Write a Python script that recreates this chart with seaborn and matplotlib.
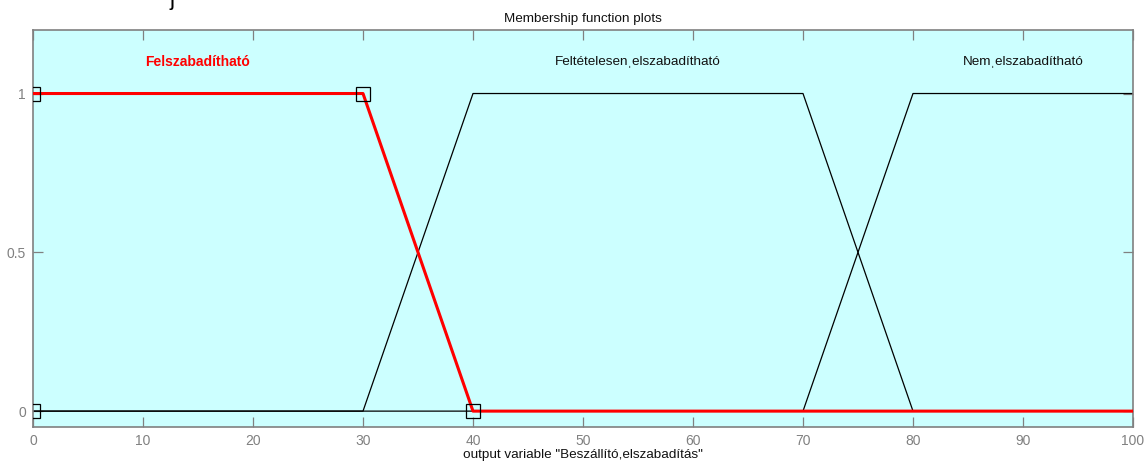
import matplotlib
matplotlib.use("Agg")
import matplotlib.pyplot as plt
import seaborn as sns
import pandas as pd

# Output variable universe and membership functions (trapezoids)
x_range = [0, 100]
mf_names = ["Felszabadítható", "Feltételesenˌelszabadítható", "Nemˌelszabadítható"]
mf_params = [[0, 0, 30, 40], [30, 40, 70, 80], [70, 80, 100, 100]]
label_x = [15, 55, 90]
label_y = 1.1
x_ticks = [0, 10, 20, 30, 40, 50, 60, 70, 80, 90, 100]
y_ticks = [0, 0.5, 1]
y_tick_labels = ["0", "0.5", "1"]
selected = 0

sns.set_style("ticks")
plt.rcParams["font.family"] = ["Liberation Sans", "DejaVu Sans"]

GRAY = "#808080"


def trap_curve(p):
    """Corner points of a trapezoid drawn across the whole universe."""
    a, b, c, d = p
    pts = [(a, 0.0), (b, 1.0), (c, 1.0), (d, 0.0)]
    if a == x_range[0] and b == a:
        pts = pts[1:]
    if d == x_range[1] and c == d:
        pts = pts[:-1]
    if pts[0][0] > x_range[0]:
        pts = [(x_range[0], pts[0][1])] + pts
    if pts[-1][0] < x_range[1]:
        pts = pts + [(x_range[1], pts[-1][1])]
    return pd.DataFrame(pts, columns=["x", "mu"])


fig = plt.figure(figsize=(11.48, 4.61), dpi=100)
ax = fig.add_axes([33 / 1148, 34 / 461, 1100 / 1148, 397 / 461])
ax.set_facecolor("#CCFFFF")

# black curves first, then the selected one in red on top
for i, p in enumerate(mf_params):
    if i == selected:
        continue
    sns.lineplot(data=trap_curve(p), x="x", y="mu", ax=ax, color="black",
                 linewidth=0.9, sort=False, estimator=None, zorder=2)
sns.lineplot(data=trap_curve(mf_params[selected]), x="x", y="mu", ax=ax,
             color="red", linewidth=2.2, sort=False, estimator=None, zorder=3)

# vertex handles of the selected function
a, b, c, d = mf_params[selected]
ax.plot([a, b, c, d], [0, 1, 1, 0], linestyle="none", marker="s",
        markersize=10, markerfacecolor="none", markeredgecolor="black",
        markeredgewidth=0.9, zorder=4)

for i, name in enumerate(mf_names):
    if i == selected:
        ax.text(label_x[i], label_y, name, ha="center", va="center",
                color="red", fontsize=10, fontweight="bold")
    else:
        ax.text(label_x[i], label_y, name, ha="center", va="center",
                color="#111111", fontsize=9.7)

ax.set_xlim(x_range)
ax.set_ylim(-0.05, 1.2)
ax.set_xticks(x_ticks)
ax.set_xticklabels([str(t) for t in x_ticks])
ax.set_yticks(y_ticks)
ax.set_yticklabels(y_tick_labels)
ax.tick_params(direction="in", length=7, width=0.9, color=GRAY,
               labelcolor=GRAY, labelsize=10, top=True, right=True,
               pad=5)
for s in ax.spines.values():
    s.set_color(GRAY)
    s.set_linewidth(1.2)

ax.set_xlabel('output variable "Beszállító,elszabadítás"', fontsize=9.7,
              color="#111111", labelpad=1)
ax.set_ylabel("")
ax.set_title("Membership function plots", fontsize=9.7, color="#111111", pad=6)

fig.text(172 / 1148, 1.0, "j", fontsize=16, color="black", ha="center", va="center")

fig.savefig("out.png", dpi=100, facecolor="white")
